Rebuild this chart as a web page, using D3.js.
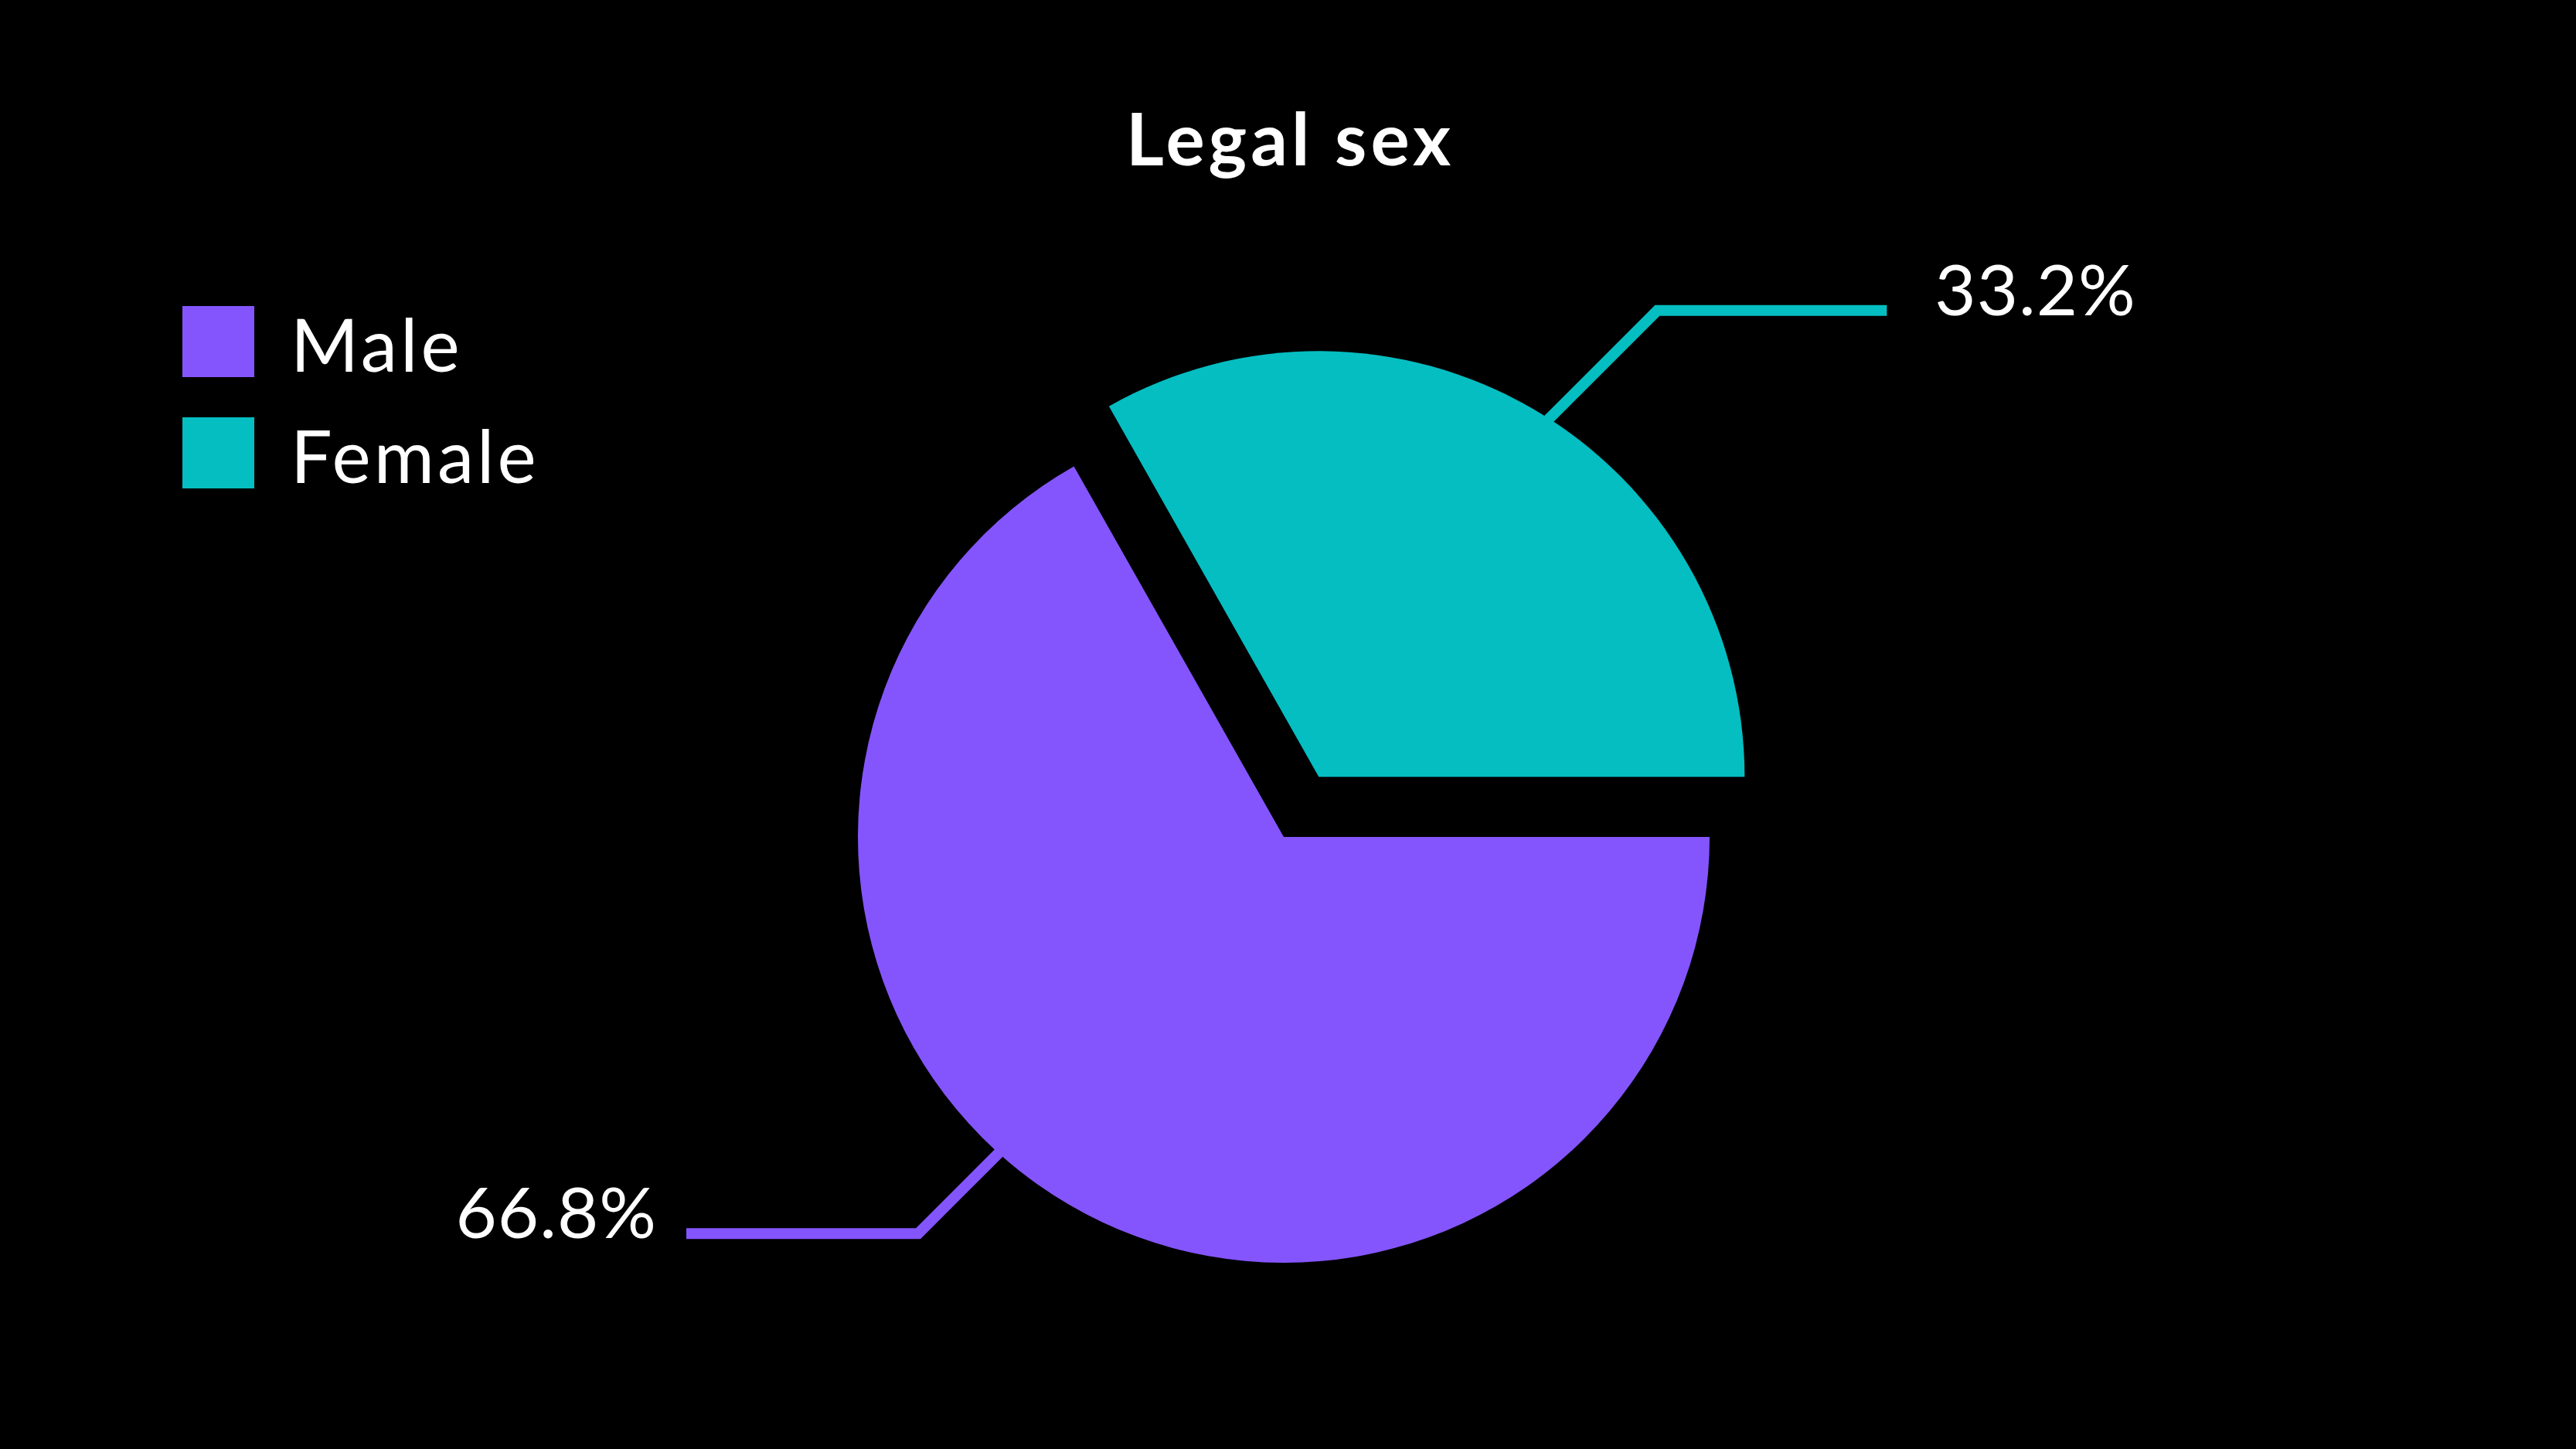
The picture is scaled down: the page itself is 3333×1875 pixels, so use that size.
<!DOCTYPE html>
<html>
<head>
<meta charset="utf-8">
<script src="https://cdn.jsdelivr.net/npm/d3@7"></script>
<style>
  html, body { margin: 0; padding: 0; background: #000; }
  svg { display: block; }
  text { font-family: Lato, "Open Sans", sans-serif; fill: #fff; }
</style>
</head>
<body>
<div id="chart"></div>
<script>
const categories = ['Male', 'Female'];
const shares = [66.8, 33.2];
const shareLabels = ['66.8%', '33.2%'];
const colors = ['#8455FC', '#04BEC2'];
const title = 'Legal sex';

const width = 3333;
const height = 1875;
const center = { x: 1661, y: 1083 };
const radius = 551;
const explode = [0, 90];

// leader line layout per slice: shift of the exit angle, diagonal and run lengths
const leader = [
  { shift: 11.8, diag: 104, run: 300, gap: 38 },
  { shift: 2.5, diag: 140, run: 297, gap: 62 }
];

const data = categories.map((c, i) => ({ name: c, value: shares[i], label: shareLabels[i], i }));

const svg = d3.select('#chart').append('svg')
  .attr('width', width)
  .attr('height', height);

svg.append('rect')
  .attr('width', width)
  .attr('height', height)
  .attr('fill', '#000');

svg.append('text')
  .attr('x', width / 2 + 3)
  .attr('y', 214)
  .attr('text-anchor', 'middle')
  .style('font-weight', 700)
  .style('font-size', '94px')
  .style('letter-spacing', '5px')
  .text(title);

const color = d3.scaleOrdinal().domain(categories).range(colors);

const pie = d3.pie()
  .sort(null)
  .value((d) => d.value)
  .startAngle(Math.PI / 2)
  .endAngle(Math.PI / 2 + 2 * Math.PI);

const arc = d3.arc().innerRadius(0).outerRadius(radius);

const arcs = pie(data);

const offsetOf = (d) => {
  const mid = (d.startAngle + d.endAngle) / 2;
  const e = explode[d.data.i];
  return [Math.sin(mid) * e, -Math.cos(mid) * e];
};

const g = svg.append('g')
  .attr('transform', `translate(${center.x},${center.y})`);

// leader lines first so slices cover their inner end
g.selectAll('.leader')
  .data(arcs)
  .enter()
  .append('path')
  .attr('class', 'leader')
  .attr('fill', 'none')
  .attr('stroke', (d) => color(d.data.name))
  .attr('stroke-width', 14)
  .attr('stroke-linejoin', 'miter')
  .attr('d', (d) => {
    const [ox, oy] = offsetOf(d);
    const L = leader[d.data.i];
    const a = (d.startAngle + d.endAngle) / 2 + L.shift * Math.PI / 180;
    const sx = Math.sign(Math.sin(a));
    const sy = -Math.sign(Math.cos(a));
    const x0 = ox + Math.sin(a) * radius;
    const y0 = oy - Math.cos(a) * radius;
    const x1 = x0 + sx * L.diag;
    const y1 = y0 + sy * L.diag;
    const x2 = x1 + sx * L.run;
    d.labelPos = { x: x2 + sx * L.gap, y: y1, anchor: sx > 0 ? 'start' : 'end' };
    return `M${x0 - sx * 20},${y0 - sy * 20}L${x1},${y1}L${x2},${y1}`;
  });

g.selectAll('.slice')
  .data(arcs)
  .enter()
  .append('path')
  .attr('class', 'slice')
  .attr('transform', (d) => `translate(${offsetOf(d)})`)
  .attr('d', arc)
  .style('fill', (d) => color(d.data.name));

g.selectAll('.share')
  .data(arcs)
  .enter()
  .append('text')
  .attr('class', 'share')
  .attr('x', (d) => d.labelPos.x)
  .attr('y', (d) => d.labelPos.y + 6)
  .attr('text-anchor', (d) => d.labelPos.anchor)
  .style('font-weight', 400)
  .style('font-size', '92px')
  .style('letter-spacing', '1px')
  .text((d) => d.data.label);

// legend
const legend = svg.append('g')
  .attr('transform', 'translate(236,396)');

const items = legend.selectAll('.item')
  .data(categories)
  .enter()
  .append('g')
  .attr('class', 'item')
  .attr('transform', (d, i) => `translate(0,${i * 144})`);

items.append('rect')
  .attr('width', 93)
  .attr('height', 92)
  .style('fill', (d) => color(d));

items.append('text')
  .attr('x', 140)
  .attr('y', 85)
  .style('font-size', '95px')
  .style('letter-spacing', '4px')
  .text((d) => d);
</script>
</body>
</html>
